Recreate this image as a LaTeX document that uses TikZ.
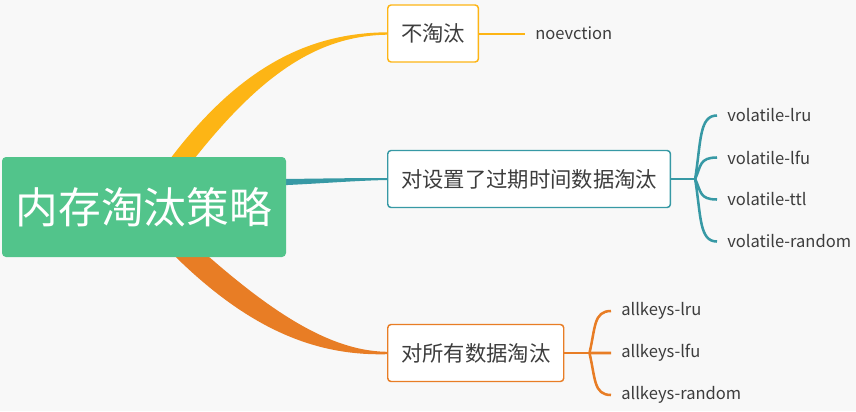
\documentclass[tikz,border=0pt]{standalone}
\usepackage{fontspec}
\setmainfont{Noto Sans CJK SC}
\usetikzlibrary{calc}
\definecolor{rootgreen}{HTML}{52C48B}
\definecolor{keepyellow}{HTML}{FDB515}
\definecolor{ttlteal}{HTML}{3799A5}
\definecolor{allorange}{HTML}{E87D25}
\definecolor{paper}{HTML}{F8F8F8}
\definecolor{ink}{HTML}{3D3D3D}
\pgfdeclarelayer{paperlayer}
\pgfdeclarelayer{limbs}
\pgfsetlayers{paperlayer,limbs,main}

\begin{document}
\begin{tikzpicture}[x=0.75pt,y=-0.75pt,
    topic/.style={draw,fill=white,rounded corners=2.5pt,line width=1.1pt,anchor=west,minimum height=42.75pt,inner xsep=10pt,text=ink,font=\fontsize{16}{19}\selectfont},
    leaf/.style={anchor=west,inner xsep=7.5pt,inner ysep=1pt,text=ink,font=\fontsize{12.4}{15}\selectfont},
    twig/.style={line width=1.9pt}]
  \begin{pgfonlayer}{paperlayer}
    \fill[paper] (0,0) rectangle (856,411);
  \end{pgfonlayer}
  \useasboundingbox (0,0) rectangle (856,411);

  \node[fill=rootgreen,rounded corners=3pt,minimum width=213pt,minimum height=75pt,text=white,font=\fontsize{32}{36}\selectfont] (root) at (144,207) {内存淘汰策略};
  \node[topic,draw=keepyellow] (keep) at (387,33.5) {不淘汰};
  \node[topic,draw=ttlteal] (ttl) at (387,179) {对设置了过期时间数据淘汰};
  \node[topic,draw=allorange] (all) at (387,353) {对所有数据淘汰};

  % tapered limbs from the root
  \begin{pgfonlayer}{limbs}
    \fill[keepyellow] ($(root.center)+(4,-17)$) .. controls (225,75) and (300,33) .. ($(keep.west)+(0,-1.2)$)
      -- ($(keep.west)+(0,1.2)$) .. controls (312,36) and (250,80) .. ($(root.center)+(23,-12)$) -- cycle;
    \fill[ttlteal] ($(root.center)+(56,-27)$) .. controls (300,179) and (340,178) .. ($(ttl.west)+(0,-1)$)
      -- ($(ttl.west)+(0,1)$) .. controls (340,181) and (300,186) .. ($(root.center)+(56,-19)$) -- cycle;
    \fill[allorange] ($(root.center)+(33,21)$) .. controls (260,305) and (325,351) .. ($(all.west)+(0,-1.2)$)
      -- ($(all.west)+(0,1.2)$) .. controls (315,356) and (240,330) .. ($(root.center)+(4,21)$) -- cycle;
  \end{pgfonlayer}

  \node[leaf] (noev) at (525,33.5) {noevction};
  \draw[keepyellow,line width=1.5pt] (keep.east) -- (noev.west);

  \coordinate (ttlfork) at ($(ttl.east)+(24,0)$);
  \draw[twig,ttlteal] (ttl.east) -- (ttlfork);
  \foreach \nm/\txt/\yy in {vlru/volatile-lru/115.5,vlfu/volatile-lfu/157.5,vttl/volatile-ttl/199.5,vrand/volatile-random/241.5}
  {
    \node[leaf] (\nm) at (717,\yy) {\txt};
    \draw[twig,ttlteal] (ttlfork) .. controls ($(ttlfork)!0.6!(ttlfork |- \nm.west)+(6,0)$)
      and ($(ttlfork |- \nm.west)+(4,0)$) .. (\nm.west);
  }

  \coordinate (allfork) at ($(all.east)+(25,0)$);
  \draw[twig,allorange] (all.east) -- (allfork);
  \foreach \nm/\txt/\yy in {alru/allkeys-lru/311,alfu/allkeys-lfu/353,arand/allkeys-random/395}
  {
    \node[leaf] (\nm) at (611,\yy) {\txt};
    \draw[twig,allorange] (allfork) .. controls ($(allfork)!0.6!(allfork |- \nm.west)+(6,0)$)
      and ($(allfork |- \nm.west)+(4,0)$) .. (\nm.west);
  }
\end{tikzpicture}
\end{document}
